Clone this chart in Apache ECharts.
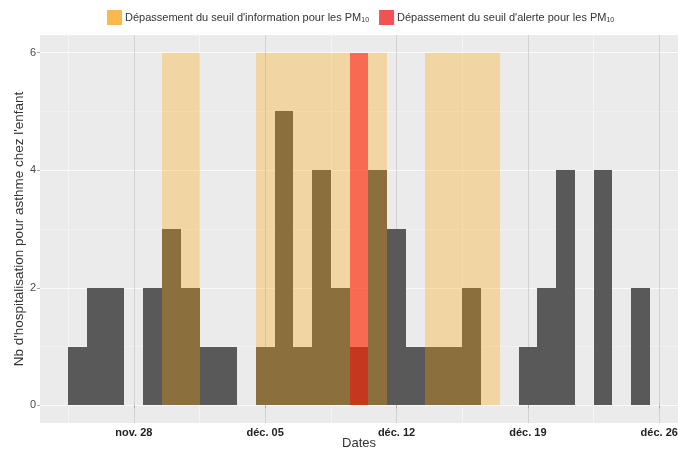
<!DOCTYPE html>
<html>
<head>
<meta charset="utf-8">
<script src="https://cdn.jsdelivr.net/npm/echarts@6/dist/echarts.min.js"></script>
<style>
  html, body { margin: 0; padding: 0; background: #ffffff; }
  #chart { width: 678px; height: 450px; }
</style>
</head>
<body>
<div id="chart"></div>
<script>
// Daily number of asthma hospitalisations in children
const days = [
  '2016-11-25', '2016-11-26', '2016-11-27', '2016-11-28', '2016-11-29', '2016-11-30',
  '2016-12-01', '2016-12-02', '2016-12-03', '2016-12-04', '2016-12-05', '2016-12-06',
  '2016-12-07', '2016-12-08', '2016-12-09', '2016-12-10', '2016-12-11', '2016-12-12',
  '2016-12-13', '2016-12-14', '2016-12-15', '2016-12-16', '2016-12-17', '2016-12-18',
  '2016-12-19', '2016-12-20', '2016-12-21', '2016-12-22', '2016-12-23', '2016-12-24',
  '2016-12-25'
];
const counts = [
  1, 2, 2, 0, 2, 3,
  2, 1, 1, 0, 1, 5,
  1, 4, 2, 1, 4, 3,
  1, 1, 1, 2, 0, 0,
  1, 2, 4, 0, 4, 0,
  2
];

// Days on which the PM10 information threshold was exceeded
const infoDays = [
  '2016-11-30', '2016-12-01',
  '2016-12-05', '2016-12-06', '2016-12-07', '2016-12-08', '2016-12-09', '2016-12-10', '2016-12-11',
  '2016-12-14', '2016-12-15', '2016-12-16', '2016-12-17'
];
// Days on which the PM10 alert threshold was exceeded
const alertDays = ['2016-12-10'];

// Axis ticks
const tickDates = ['2016-11-28', '2016-12-05', '2016-12-12', '2016-12-19', '2016-12-26'];
const tickLabels = ['nov. 28', 'déc. 05', 'déc. 12', 'déc. 19', 'déc. 26'];
const yTicks = [0, 2, 4, 6];
const yMinorTicks = [1, 3, 5];
const axisStart = '2016-11-23';
const axisEnd = '2016-12-27';

const infoName = "Dépassement du seuil d'information pour les PM10";
const alertName = "Dépassement du seuil d'alerte pour les PM10";

function dayNum(s) {
  return Math.round((Date.parse(s + 'T00:00:00Z') - Date.parse(axisStart + 'T00:00:00Z')) / 864e5);
}

const xMin = 0;
const xMax = dayNum(axisEnd);
const xMajor = tickDates.map(dayNum);
const xMinor = [];
for (let i = 0; i <= xMajor.length; i++) {
  const ref = i < xMajor.length ? xMajor[i] - 3.5 : xMajor[xMajor.length - 1] + 3.5;
  if (ref > xMin && ref < xMax) xMinor.push(ref);
}
const yTop = yTicks[yTicks.length - 1];
const yPad = (yTop - yTicks[0]) * 0.05;

// One rectangle per day, snapped to whole pixels so neighbouring days join cleanly
function dayRect(fill) {
  return function (params, api) {
    const x = api.value(0);
    const v = api.value(1);
    if (!v) return null;
    const p0 = api.coord([x - 0.5, v]);
    const p1 = api.coord([x + 0.5, 0]);
    const x0 = Math.round(p0[0]);
    const x1 = Math.round(p1[0]);
    const y0 = Math.round(p0[1]);
    const y1 = Math.round(p1[1]);
    return {
      type: 'rect',
      shape: { x: x0, y: y0, width: x1 - x0, height: y1 - y0 },
      style: { fill: fill }
    };
  };
}

const chart = echarts.init(document.getElementById('chart'), null, { renderer: 'canvas' });

chart.setOption({
  animation: false,
  backgroundColor: '#ffffff',
  textStyle: { fontFamily: 'Liberation Sans, Arial, sans-serif' },
  legend: {
    top: 10,
    left: 107,
    padding: 0,
    itemWidth: 15,
    itemHeight: 15,
    itemGap: 10,
    icon: 'rect',
    data: [
      { name: infoName, itemStyle: { color: '#FBB94B' } },
      { name: alertName, itemStyle: { color: '#F45252' } }
    ],
    formatter: function (name) { return name.replace('PM10', 'PM{sub|10}'); },
    textStyle: {
      fontSize: 11,
      color: '#333333',
      padding: [0, 0, 0, -2],
      rich: {
        sub: { fontSize: 7, verticalAlign: 'bottom', padding: [6, 0, 0, 0], color: '#333333' }
      }
    }
  },
  grid: {
    left: 40, right: 0, top: 35, bottom: 27,
    outerBoundsMode: 'none',
    containLabel: false,
    show: true, backgroundColor: '#EBEBEB', borderWidth: 0
  },
  xAxis: [
    {
      type: 'value', min: xMin, max: xMax,
      name: 'Dates', nameLocation: 'middle', nameGap: 14, nameMoveOverlap: false,
      nameTextStyle: { fontSize: 13, color: '#333333' },
      axisLine: { show: false },
      axisTick: { show: true, customValues: xMajor, length: 3, lineStyle: { color: '#AAAAAA' } },
      axisLabel: {
        customValues: xMajor, margin: 4, fontSize: 11, fontWeight: 'bold', color: '#222222',
        hideOverlap: false,
        formatter: function (v) { return tickLabels[xMajor.indexOf(v)]; }
      },
      splitLine: { show: true, lineStyle: { color: '#D2D2D2', width: 1 } }
    },
    {
      type: 'value', min: xMin, max: xMax, position: 'bottom',
      axisLine: { show: false },
      axisTick: { show: false, customValues: xMinor },
      axisLabel: { show: false, customValues: xMinor },
      splitLine: { show: true, lineStyle: { color: '#F6F6F6', width: 0.8 } }
    }
  ],
  yAxis: [
    {
      type: 'value', min: yTicks[0] - yPad, max: yTop + yPad,
      name: "Nb d'hospitalisation pour asthme chez l'enfant",
      nameLocation: 'middle', nameGap: 14, nameMoveOverlap: false,
      nameTextStyle: { fontSize: 13.5, color: '#333333' },
      axisLine: { show: false },
      axisTick: { show: true, customValues: yTicks, length: 3, lineStyle: { color: '#AAAAAA' } },
      axisLabel: { customValues: yTicks, margin: 4, fontSize: 11, color: '#4D4D4D' },
      splitLine: { show: true, lineStyle: { color: '#FAFAFA', width: 1.1 } }
    },
    {
      type: 'value', min: yTicks[0] - yPad, max: yTop + yPad, position: 'left',
      axisLine: { show: false },
      axisTick: { show: false, customValues: yMinorTicks },
      axisLabel: { show: false, customValues: yMinorTicks },
      splitLine: { show: true, lineStyle: { color: '#F4F4F4', width: 0.7 } }
    }
  ],
  series: [
    {
      name: 'hospitalisations',
      type: 'custom',
      xAxisIndex: 0, yAxisIndex: 0,
      renderItem: dayRect('#595959'),
      encode: { x: 0, y: 1 },
      data: days.map(function (d, i) { return [dayNum(d), counts[i]]; })
    },
    {
      name: infoName,
      type: 'custom',
      xAxisIndex: 0, yAxisIndex: 0,
      itemStyle: { color: '#FBB94B' },
      renderItem: dayRect('rgba(255,165,0,0.3)'),
      encode: { x: 0, y: 1 },
      data: infoDays.map(function (d) { return [dayNum(d), yTop]; })
    },
    {
      name: alertName,
      type: 'custom',
      xAxisIndex: 0, yAxisIndex: 0,
      itemStyle: { color: '#F45252' },
      renderItem: dayRect('rgba(255,0,0,0.5)'),
      encode: { x: 0, y: 1 },
      data: alertDays.map(function (d) { return [dayNum(d), yTop]; })
    }
  ]
});
</script>
</body>
</html>
